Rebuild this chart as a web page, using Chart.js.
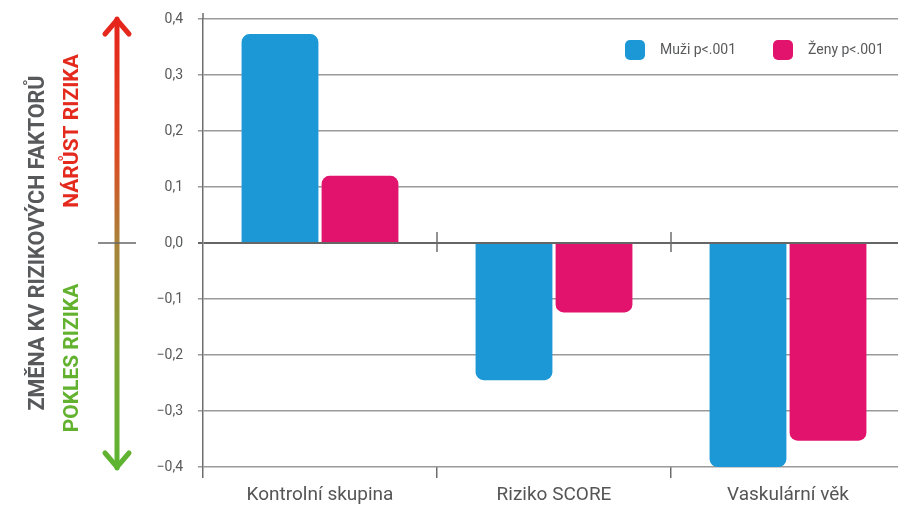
<!DOCTYPE html>
<html lang="cs">
<head>
<meta charset="utf-8">
<title>Změna KV rizikových faktorů</title>
<script src="https://cdn.jsdelivr.net/npm/chart.js@4/dist/chart.umd.min.js"></script>
<style>
  html, body { margin: 0; padding: 0; background: #ffffff; overflow: hidden; }
  #wrap { width: 906px; height: 506px; }
</style>
</head>
<body>
<div id="wrap"><canvas id="chart" width="906" height="506"></canvas></div>
<script>
// Kategorie a hodnoty (změna rizikových faktorů)
const categories = ['Kontrolní skupina', 'Riziko SCORE', 'Vaskulární věk'];
const seriesNames = ['Muži p<.001', 'Ženy p<.001'];
const muzi = [0.373, -0.245, -0.40];
const zeny = [0.12, -0.124, -0.353];
const yTickLabels = ['−0,4', '−0,3', '−0,2', '−0,1', '0,0', '0,1', '0,2', '0,3', '0,4'];
const axisTitle = 'ZMĚNA KV RIZIKOVÝCH FAKTORŮ';
const upLabel = 'NÁRŮST RIZIKA';
const downLabel = 'POKLES RIZIKA';

const FONT = "Roboto, 'Open Sans', 'DejaVu Sans', sans-serif";
const BLUE = '#1b98d5';
const PINK = '#e1136c';
const GRID = '#9a9a9a';
const AXIS = '#6e6e6e';

// Šipka s popisky a svislý nadpis vlevo od osy
const sidePanel = {
  id: 'sidePanel',
  afterDraw(chart) {
    const ctx = chart.ctx;
    const y = chart.scales.y;
    const yTop = y.getPixelForValue(0.4);
    const yBot = y.getPixelForValue(-0.4);
    const y0 = y.getPixelForValue(0);
    const ax = 117;

    ctx.save();
    // svislý nadpis
    ctx.fillStyle = '#58595b';
    ctx.font = "bold 21.5px " + FONT;
    ctx.textAlign = 'center';
    ctx.textBaseline = 'middle';
    ctx.translate(39, y0);
    ctx.rotate(-Math.PI / 2);
    ctx.fillText(axisTitle, 0, 0);
    ctx.restore();

    ctx.save();
    ctx.font = "bold 21px " + FONT;
    ctx.textAlign = 'center';
    ctx.textBaseline = 'middle';
    ctx.fillStyle = '#e42a1d';
    ctx.translate(73, (yTop + y0) / 2);
    ctx.rotate(-Math.PI / 2);
    ctx.fillText(upLabel, 0, 0);
    ctx.restore();

    ctx.save();
    ctx.font = "bold 21px " + FONT;
    ctx.textAlign = 'center';
    ctx.textBaseline = 'middle';
    ctx.fillStyle = '#62b22f';
    ctx.translate(73, (y0 + yBot) / 2 + 3);
    ctx.rotate(-Math.PI / 2);
    ctx.fillText(downLabel, 0, 0);
    ctx.restore();

    // šipka s barevným přechodem
    ctx.save();
    const tipTop = yTop - 2;
    const tipBot = yBot + 3;
    const grad = ctx.createLinearGradient(0, tipTop, 0, tipBot);
    grad.addColorStop(0, '#e6231b');
    grad.addColorStop(0.3, '#dd4a22');
    grad.addColorStop(0.5, '#a8823a');
    grad.addColorStop(0.75, '#7ea435');
    grad.addColorStop(1, '#5cb531');
    ctx.strokeStyle = grad;
    ctx.lineWidth = 5;
    ctx.lineCap = 'round';
    ctx.lineJoin = 'round';
    ctx.beginPath();
    ctx.moveTo(ax, tipTop + 2);
    ctx.lineTo(ax, tipBot - 2);
    ctx.stroke();
    ctx.beginPath();
    ctx.moveTo(ax - 12, tipTop + 17);
    ctx.lineTo(ax, tipTop + 3);
    ctx.lineTo(ax + 12, tipTop + 17);
    ctx.stroke();
    ctx.beginPath();
    ctx.moveTo(ax - 12, tipBot - 17);
    ctx.lineTo(ax, tipBot - 3);
    ctx.lineTo(ax + 12, tipBot - 17);
    ctx.stroke();
    // vodorovná značka nuly přes šipku
    ctx.strokeStyle = '#666666';
    ctx.lineWidth = 1.5;
    ctx.lineCap = 'butt';
    ctx.beginPath();
    ctx.moveTo(98, y0);
    ctx.lineTo(136, y0);
    ctx.stroke();
    ctx.restore();
  }
};

// Svislá osa nad horním okrajem a značky kategorií na nulové linii
const axisExtras = {
  id: 'axisExtras',
  afterDatasetsDraw(chart) {
    const ctx = chart.ctx;
    const x = chart.scales.x;
    const y = chart.scales.y;
    const area = chart.chartArea;
    const y0 = y.getPixelForValue(0);
    ctx.save();
    ctx.strokeStyle = AXIS;
    ctx.lineWidth = 1.5;
    ctx.beginPath();
    ctx.moveTo(area.left, area.top - 6);
    ctx.lineTo(area.left, area.top);
    ctx.stroke();
    for (let i = 0; i < categories.length - 1; i++) {
      const bx = (x.getPixelForValue(i) + x.getPixelForValue(i + 1)) / 2;
      ctx.beginPath();
      ctx.moveTo(bx, y0 - 11);
      ctx.lineTo(bx, y0 + 9);
      ctx.stroke();
    }
    ctx.restore();
  }
};

// Legenda v pravém horním rohu grafu
const cornerLegend = {
  id: 'cornerLegend',
  afterDraw(chart) {
    const ctx = chart.ctx;
    const top = chart.chartArea.top;
    const starts = [625, 773];
    ctx.save();
    ctx.font = "14px " + FONT;
    ctx.textBaseline = 'middle';
    ctx.textAlign = 'left';
    chart.data.datasets.forEach((ds, i) => {
      const bx = starts[i];
      const by = top + 21;
      ctx.fillStyle = ds.backgroundColor;
      ctx.beginPath();
      ctx.roundRect(bx, by, 20, 20, 5);
      ctx.fill();
      ctx.fillStyle = '#58595b';
      ctx.fillText(ds.label, bx + 35, by + 10);
    });
    ctx.restore();
  }
};

new Chart(document.getElementById('chart'), {
  type: 'bar',
  data: {
    labels: categories,
    datasets: [
      { label: seriesNames[0], data: muzi, backgroundColor: BLUE, borderRadius: 8, borderSkipped: 'start' },
      { label: seriesNames[1], data: zeny, backgroundColor: PINK, borderRadius: 8, borderSkipped: 'start' }
    ]
  },
  options: {
    responsive: false,
    animation: false,
    devicePixelRatio: 1,
    categoryPercentage: 0.684,
    barPercentage: 0.96,
    layout: { padding: { left: 143, top: 19, right: 1, bottom: 0 } },
    plugins: {
      legend: { display: false },
      tooltip: { enabled: false }
    },
    scales: {
      x: {
        grid: {
          offset: true,
          drawOnChartArea: false,
          drawTicks: true,
          tickLength: 11,
          color: AXIS,
          lineWidth: 1.5
        },
        border: { display: false },
        ticks: {
          color: '#555555',
          font: { family: FONT, size: 19 },
          padding: 6,
          maxRotation: 0
        },
        afterFit(scale) { scale.height = 39; }
      },
      y: {
        min: -0.4,
        max: 0.4,
        ticks: {
          stepSize: 0.1,
          color: '#58595b',
          font: { family: FONT, size: 14 },
          padding: 15,
          callback: (value, index) => yTickLabels[index]
        },
        grid: {
          color: (c) => (c.tick && Math.abs(c.tick.value) < 1e-9) ? '#666666' : GRID,
          lineWidth: (c) => (c.tick && Math.abs(c.tick.value) < 1e-9) ? 2 : 1.5,
          tickLength: 5,
          drawTicks: true
        },
        border: { display: true, color: AXIS, width: 1.5 },
        afterFit(scale) {
          scale.width = 60;
          scale.paddingTop = 0;
          scale.paddingBottom = 0;
        }
      }
    }
  },
  plugins: [sidePanel, axisExtras, cornerLegend]
});
</script>
</body>
</html>
